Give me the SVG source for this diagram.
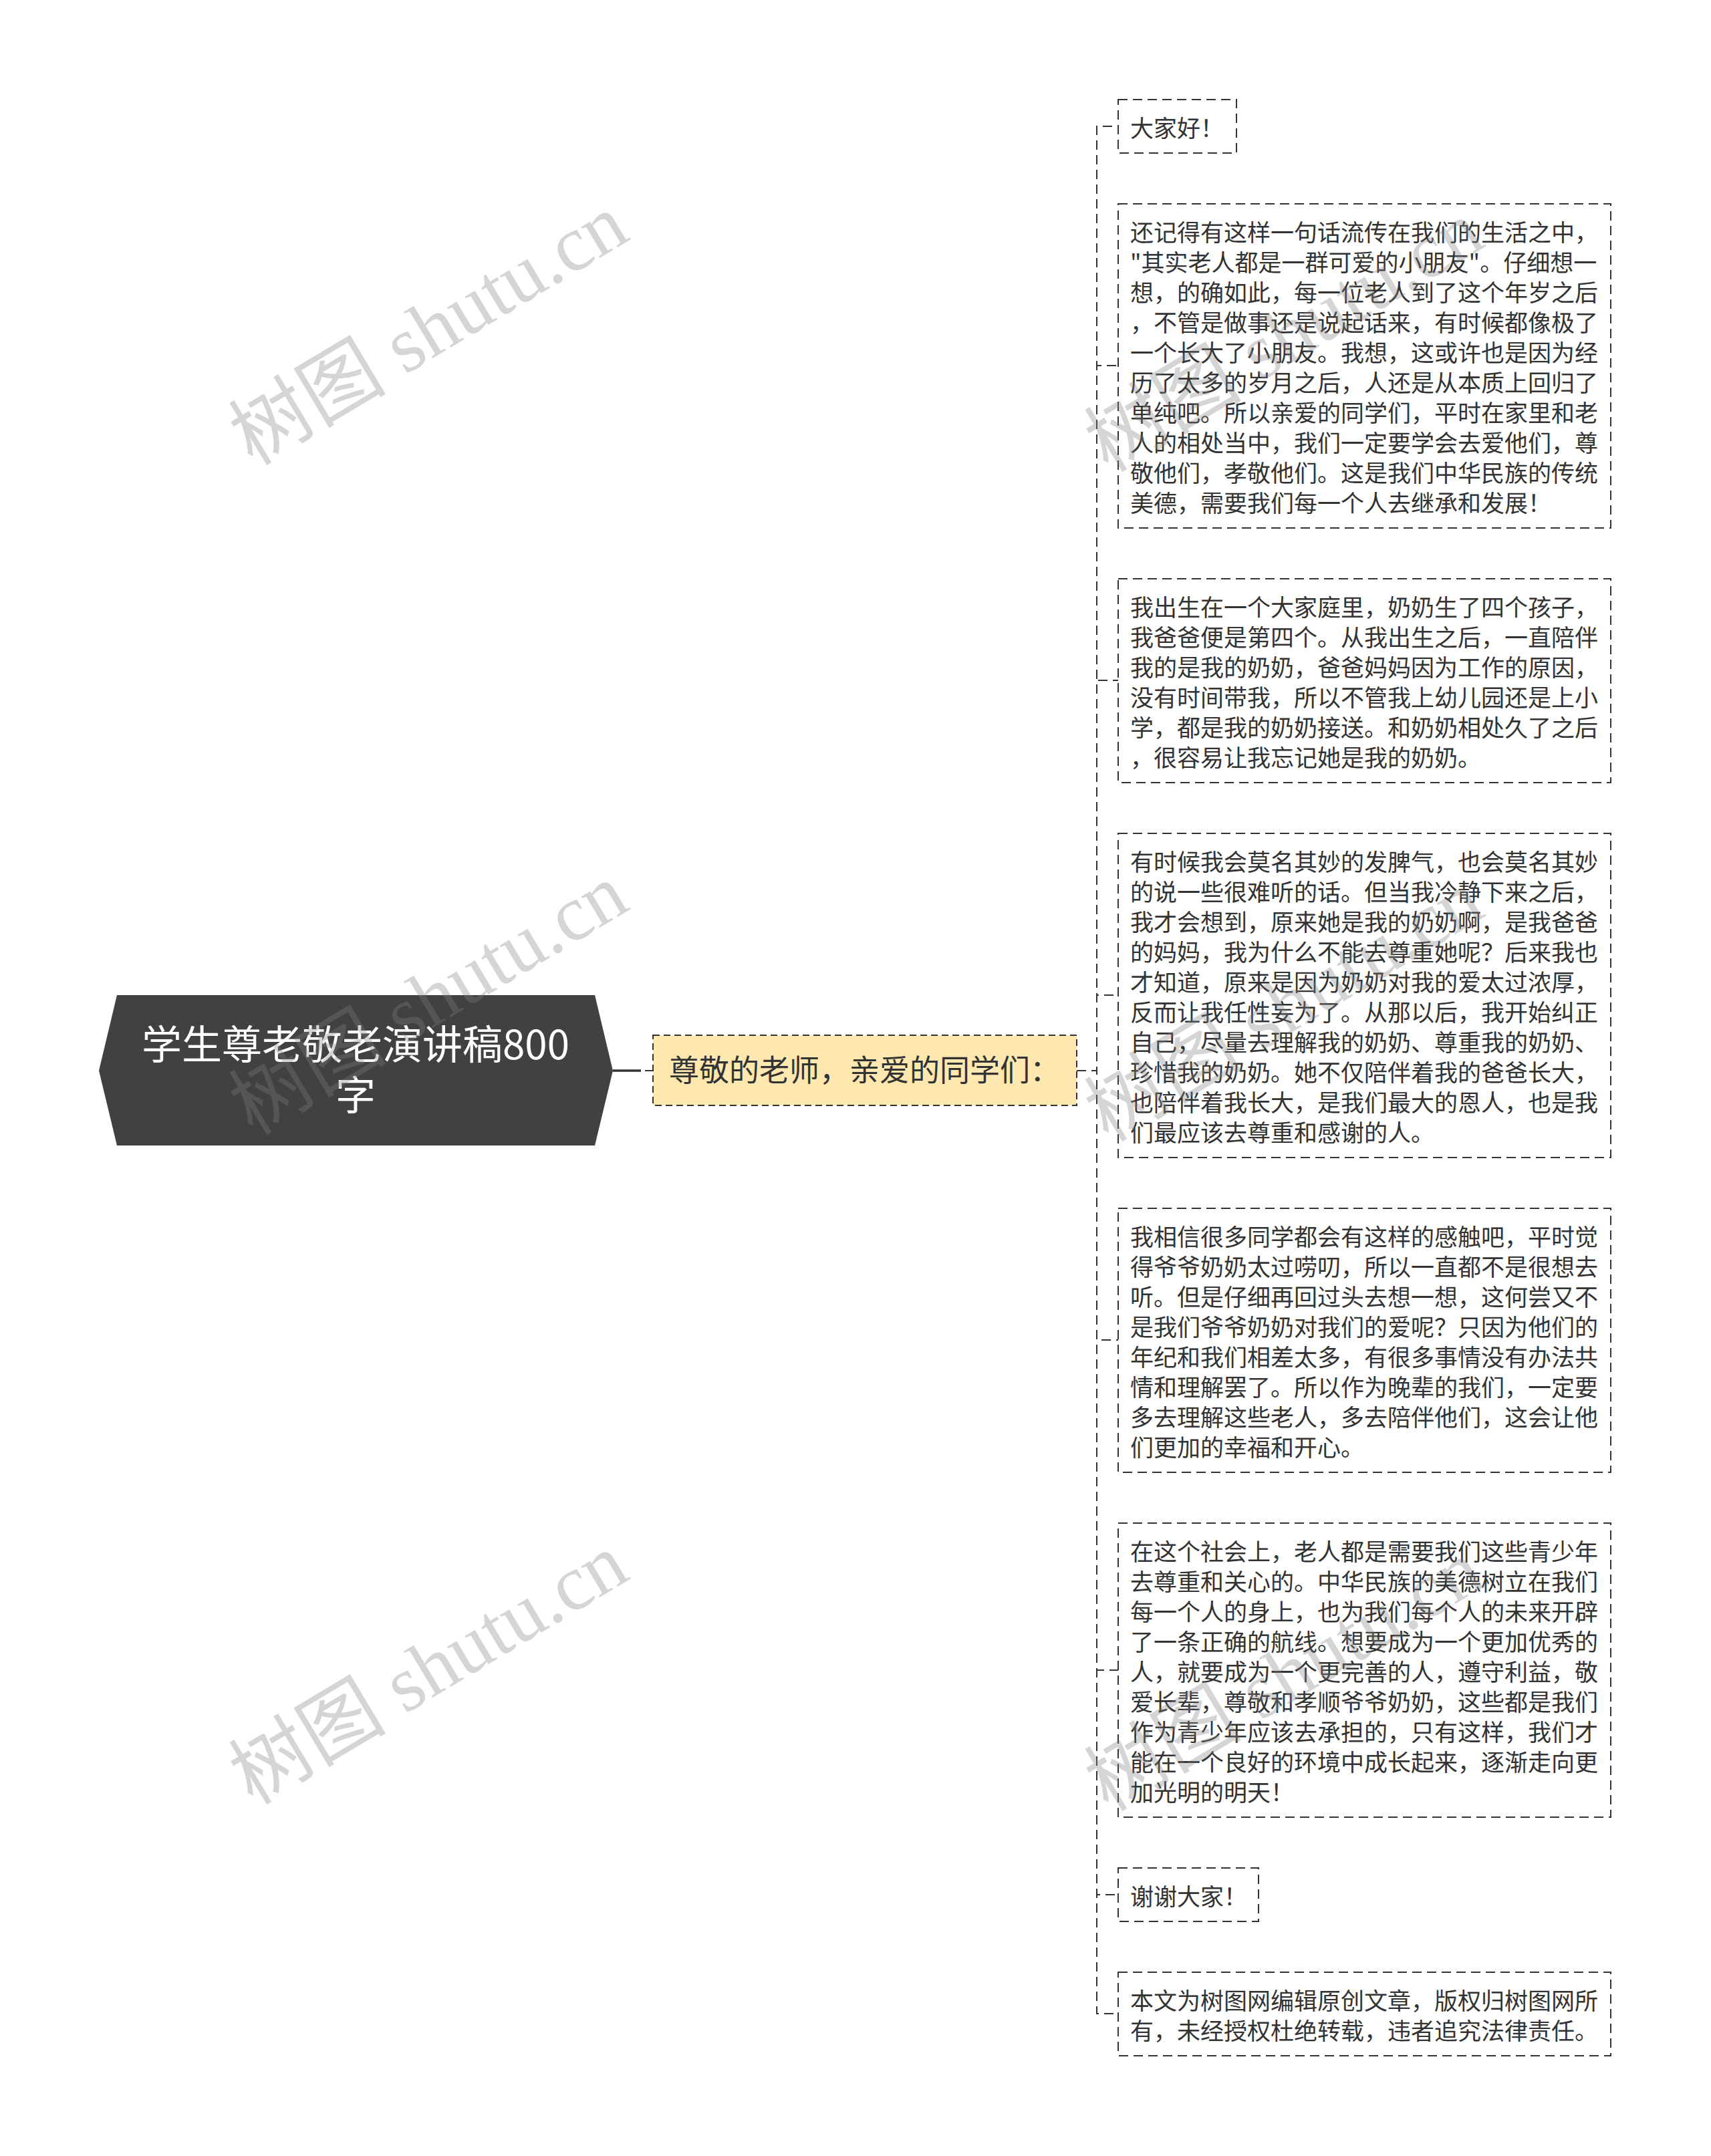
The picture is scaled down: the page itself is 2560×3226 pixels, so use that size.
<svg xmlns="http://www.w3.org/2000/svg" width="2560" height="3226" viewBox="0 0 2560 3226">
<style>
.bg{fill:#ffffff}
.box{fill:none;stroke:#333333;stroke-width:2;stroke-dasharray:14 8}
.l1box{fill:#ffe8b0;stroke:#333333;stroke-width:2;stroke-dasharray:10 6}
.conn{fill:none;stroke:#333333;stroke-width:2;stroke-dasharray:14 8}
.t{font-family:"Noto Sans CJK SC","Noto Sans",sans-serif;font-size:35px;fill:#333333}
.l1t{font-family:"Noto Sans CJK SC","Noto Sans",sans-serif;font-size:45px;fill:#333333}
.rt{font-family:"Noto Sans CJK SC","Noto Sans",sans-serif;font-size:60px;fill:#ffffff;text-anchor:middle}
.wm{font-family:"Liberation Serif","Noto Sans CJK SC",serif;font-size:118px;fill:#808080;fill-opacity:0.33}
</style>
<rect class="bg" x="0" y="0" width="2560" height="3226"/>

<g id="connectors">
  <line x1="917" y1="1602" x2="959" y2="1602" stroke="#333333" stroke-width="3.5"/>
  <line x1="965" y1="1602" x2="977" y2="1602" stroke="#333333" stroke-width="2"/>
  <path class="conn" d="M1611,1602 H1641 V189 H1673"/>
  <path class="conn" d="M1611,1602 H1641 V547 H1673"/>
  <path class="conn" d="M1611,1602 H1641 V1018 H1673"/>
  <path class="conn" d="M1611,1602 H1641 V1489 H1673"/>
  <path class="conn" d="M1611,1602 H1641 V2005 H1673"/>
  <path class="conn" d="M1611,1602 H1641 V2499 H1673"/>
  <path class="conn" d="M1611,1602 H1641 V2835 H1673"/>
  <path class="conn" d="M1611,1602 H1641 V3013 H1673"/>
</g>

<g id="root">
  <polygon points="175,1489 890,1489 917,1602 890,1714 175,1714 148,1602" fill="#414141"/>
  <text class="rt"><tspan x="532" y="1585">学生尊老敬老演讲稿800</tspan><tspan x="532" y="1661">字</tspan></text>
</g>

<g id="level1">
  <rect class="l1box" x="977" y="1549" width="634" height="105"/>
  <text class="l1t" x="1001" y="1618">尊敬的老师，亲爱的同学们：</text>
</g>

<g id="n1">
  <rect class="box" x="1673" y="149" width="177" height="80"/>
  <text class="t" x="1691" y="205">大家好！</text>
</g>

<g id="n2">
  <rect class="box" x="1673" y="305" width="737" height="485"/>
  <text class="t">
    <tspan x="1691" y="361">还记得有这样一句话流传在我们的生活之中，</tspan>
    <tspan x="1691" dy="45">"其实老人都是一群可爱的小朋友"。仔细想一</tspan>
    <tspan x="1691" dy="45">想，的确如此，每一位老人到了这个年岁之后</tspan>
    <tspan x="1691" dy="45">，不管是做事还是说起话来，有时候都像极了</tspan>
    <tspan x="1691" dy="45">一个长大了小朋友。我想，这或许也是因为经</tspan>
    <tspan x="1691" dy="45">历了太多的岁月之后，人还是从本质上回归了</tspan>
    <tspan x="1691" dy="45">单纯吧。所以亲爱的同学们，平时在家里和老</tspan>
    <tspan x="1691" dy="45">人的相处当中，我们一定要学会去爱他们，尊</tspan>
    <tspan x="1691" dy="45">敬他们，孝敬他们。这是我们中华民族的传统</tspan>
    <tspan x="1691" dy="45">美德，需要我们每一个人去继承和发展！</tspan>
  </text>
</g>

<g id="n3">
  <rect class="box" x="1673" y="866" width="737" height="305"/>
  <text class="t">
    <tspan x="1691" y="922">我出生在一个大家庭里，奶奶生了四个孩子，</tspan>
    <tspan x="1691" dy="45">我爸爸便是第四个。从我出生之后，一直陪伴</tspan>
    <tspan x="1691" dy="45">我的是我的奶奶，爸爸妈妈因为工作的原因，</tspan>
    <tspan x="1691" dy="45">没有时间带我，所以不管我上幼儿园还是上小</tspan>
    <tspan x="1691" dy="45">学，都是我的奶奶接送。和奶奶相处久了之后</tspan>
    <tspan x="1691" dy="45">，很容易让我忘记她是我的奶奶。</tspan>
  </text>
</g>

<g id="n4">
  <rect class="box" x="1673" y="1247" width="737" height="485"/>
  <text class="t">
    <tspan x="1691" y="1303">有时候我会莫名其妙的发脾气，也会莫名其妙</tspan>
    <tspan x="1691" dy="45">的说一些很难听的话。但当我冷静下来之后，</tspan>
    <tspan x="1691" dy="45">我才会想到，原来她是我的奶奶啊，是我爸爸</tspan>
    <tspan x="1691" dy="45">的妈妈，我为什么不能去尊重她呢？后来我也</tspan>
    <tspan x="1691" dy="45">才知道，原来是因为奶奶对我的爱太过浓厚，</tspan>
    <tspan x="1691" dy="45">反而让我任性妄为了。从那以后，我开始纠正</tspan>
    <tspan x="1691" dy="45">自己，尽量去理解我的奶奶、尊重我的奶奶、</tspan>
    <tspan x="1691" dy="45">珍惜我的奶奶。她不仅陪伴着我的爸爸长大，</tspan>
    <tspan x="1691" dy="45">也陪伴着我长大，是我们最大的恩人，也是我</tspan>
    <tspan x="1691" dy="45">们最应该去尊重和感谢的人。</tspan>
  </text>
</g>

<g id="n5">
  <rect class="box" x="1673" y="1808" width="737" height="395"/>
  <text class="t">
    <tspan x="1691" y="1864">我相信很多同学都会有这样的感触吧，平时觉</tspan>
    <tspan x="1691" dy="45">得爷爷奶奶太过唠叨，所以一直都不是很想去</tspan>
    <tspan x="1691" dy="45">听。但是仔细再回过头去想一想，这何尝又不</tspan>
    <tspan x="1691" dy="45">是我们爷爷奶奶对我们的爱呢？只因为他们的</tspan>
    <tspan x="1691" dy="45">年纪和我们相差太多，有很多事情没有办法共</tspan>
    <tspan x="1691" dy="45">情和理解罢了。所以作为晚辈的我们，一定要</tspan>
    <tspan x="1691" dy="45">多去理解这些老人，多去陪伴他们，这会让他</tspan>
    <tspan x="1691" dy="45">们更加的幸福和开心。</tspan>
  </text>
</g>

<g id="n6">
  <rect class="box" x="1673" y="2279" width="737" height="440"/>
  <text class="t">
    <tspan x="1691" y="2335">在这个社会上，老人都是需要我们这些青少年</tspan>
    <tspan x="1691" dy="45">去尊重和关心的。中华民族的美德树立在我们</tspan>
    <tspan x="1691" dy="45">每一个人的身上，也为我们每个人的未来开辟</tspan>
    <tspan x="1691" dy="45">了一条正确的航线。想要成为一个更加优秀的</tspan>
    <tspan x="1691" dy="45">人，就要成为一个更完善的人，遵守利益，敬</tspan>
    <tspan x="1691" dy="45">爱长辈，尊敬和孝顺爷爷奶奶，这些都是我们</tspan>
    <tspan x="1691" dy="45">作为青少年应该去承担的，只有这样，我们才</tspan>
    <tspan x="1691" dy="45">能在一个良好的环境中成长起来，逐渐走向更</tspan>
    <tspan x="1691" dy="45">加光明的明天！</tspan>
  </text>
</g>

<g id="n7">
  <rect class="box" x="1673" y="2795" width="210" height="80"/>
  <text class="t" x="1691" y="2851">谢谢大家！</text>
</g>

<g id="n8">
  <rect class="box" x="1673" y="2951" width="737" height="125"/>
  <text class="t">
    <tspan x="1691" y="3007">本文为树图网编辑原创文章，版权归树图网所</tspan>
    <tspan x="1691" dy="45">有，未经授权杜绝转载，违者追究法律责任。</tspan>
  </text>
</g>

<g id="watermarks">
  <text class="wm" x="378" y="698" transform="rotate(-31 378 698)">树图 shutu.cn</text>
  <text class="wm" x="378" y="1700" transform="rotate(-31 378 1700)">树图 shutu.cn</text>
  <text class="wm" x="378" y="2702" transform="rotate(-31 378 2702)">树图 shutu.cn</text>
  <text class="wm" x="1658" y="708" transform="rotate(-31 1658 708)">树图 shutu.cn</text>
  <text class="wm" x="1658" y="1710" transform="rotate(-31 1658 1710)">树图 shutu.cn</text>
  <text class="wm" x="1658" y="2712" transform="rotate(-31 1658 2712)">树图 shutu.cn</text>
</g>
</svg>
